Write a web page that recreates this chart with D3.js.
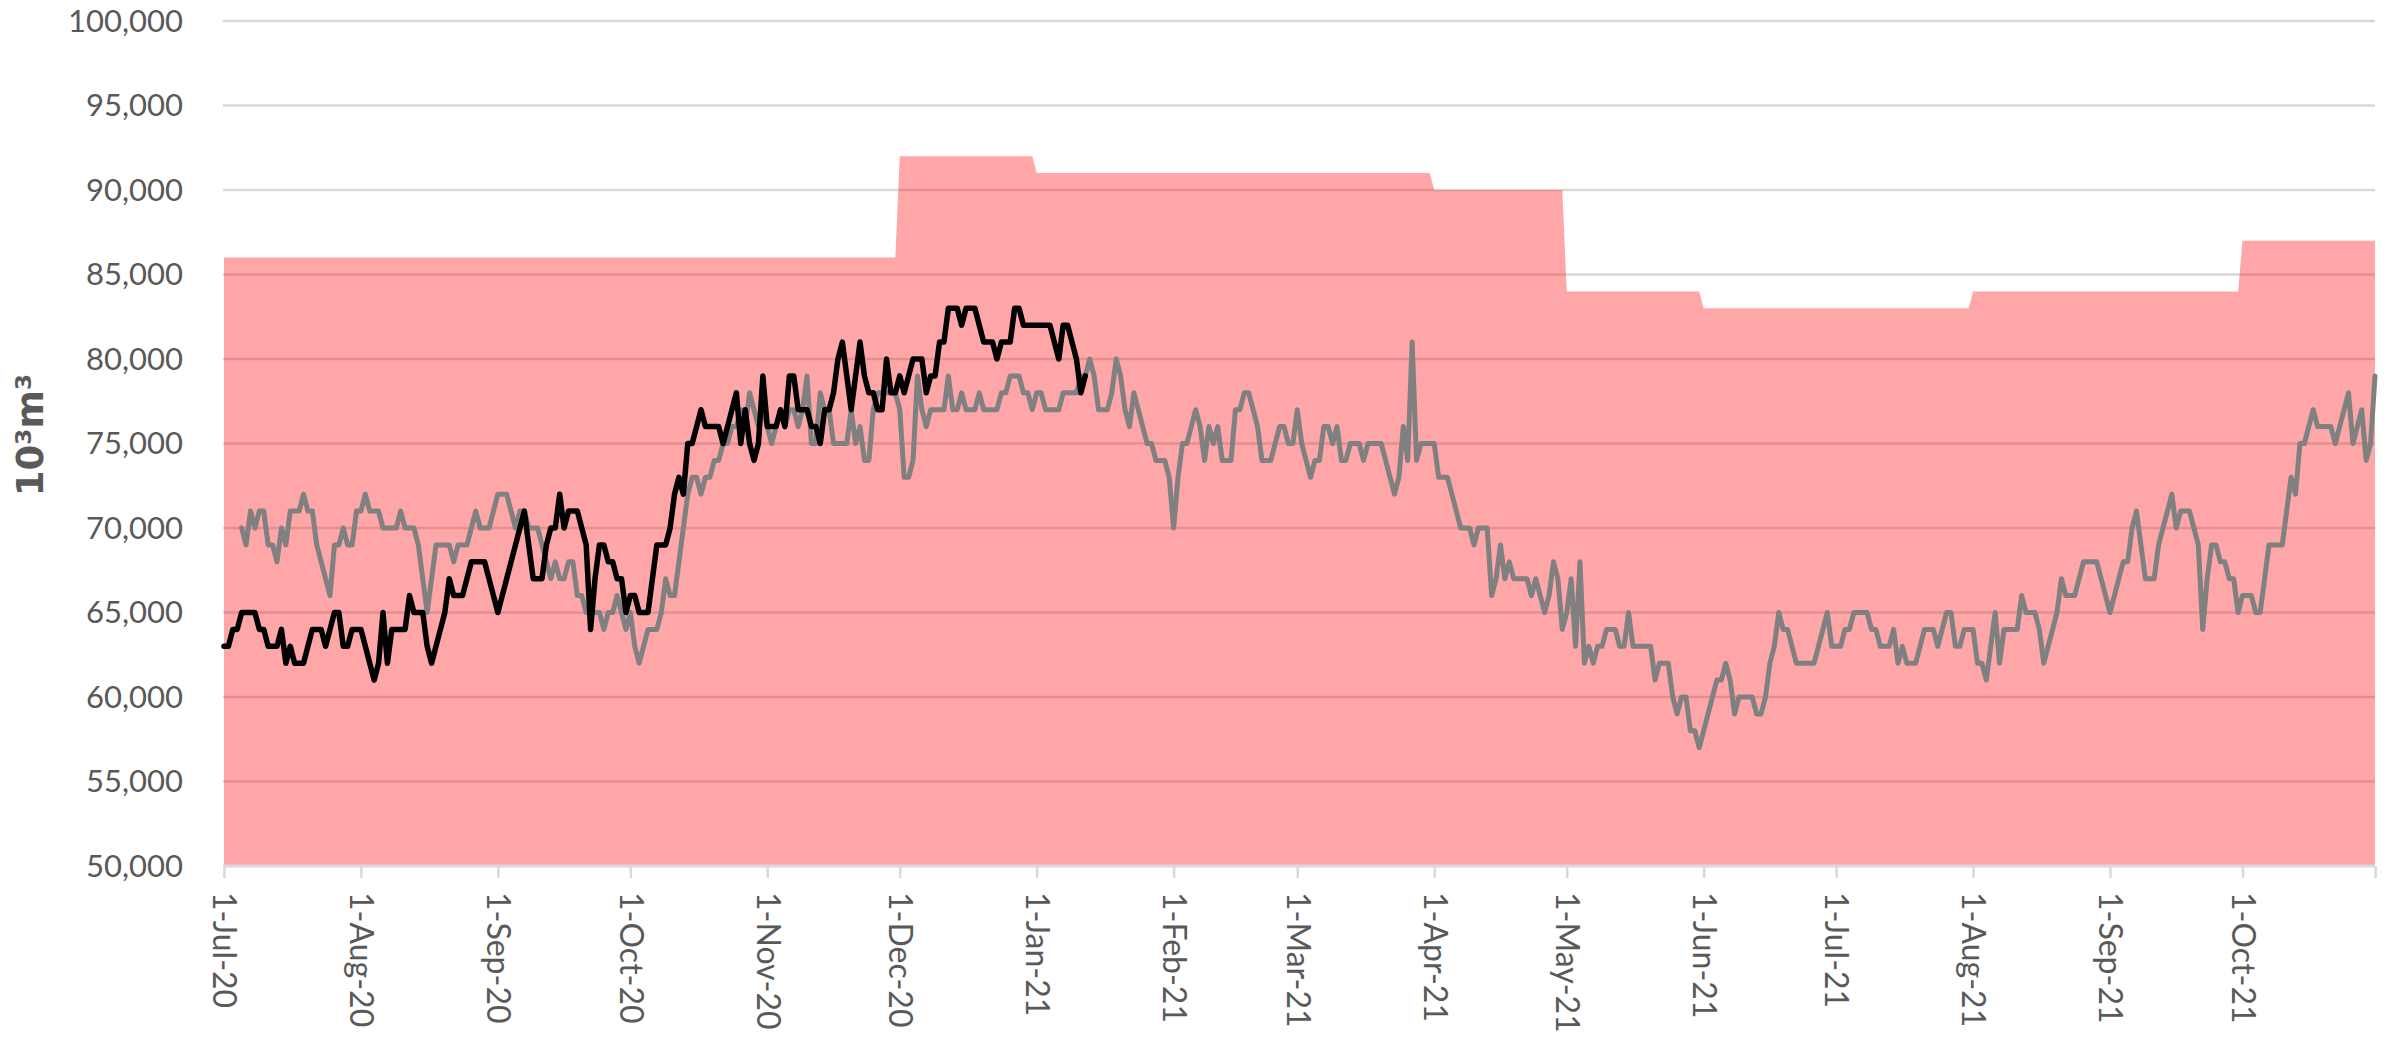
<!DOCTYPE html>
<html>
  <head>
    <meta charset="utf-8">
    <script type="text/javascript" src="https://d3js.org/d3.v7.min.js"></script>
    <style>
        body { margin:0; background:#ffffff; }
        svg { display:block; }
        text { font-family: Lato, "Open Sans", sans-serif; fill:#595959; }
    </style>
  </head>
  <body>
    <script type="text/javascript">
      var width = 2392,
          height = 1054;

      // capacity (pink area): value changes on these dates
      var capDates  = ["2020-07-01", "2020-12-01", "2021-01-01", "2021-04-01", "2021-05-01", "2021-06-01", "2021-08-01", "2021-10-01"];
      var capValues = [86000, 92000, 91000, 90000, 84000, 83000, 84000, 87000];
      var lastDay = "2021-10-31";

      // grey series, one value per day from 5 Jul 2020
      var greyStart = "2020-07-05";
      var greyValues = [
        70000,69000,71000,70000,71000,71000,69000,69000,68000,70000,69000,71000,71000,71000,72000,71000,71000,69000,68000,67000,66000,69000,69000,70000,69000,69000,71000,
        71000,72000,71000,71000,71000,70000,70000,70000,70000,71000,70000,70000,70000,69000,67000,65000,67000,69000,69000,69000,69000,68000,69000,69000,69000,70000,71000,70000,70000,70000,71000,
        72000,72000,72000,71000,70000,71000,71000,70000,70000,70000,69000,68000,67000,68000,67000,67000,68000,68000,66000,66000,65000,65000,65000,65000,64000,65000,65000,66000,65000,64000,
        65000,63000,62000,63000,64000,64000,64000,65000,67000,66000,66000,68000,70000,72000,73000,73000,72000,73000,73000,74000,74000,75000,75000,76000,76000,77000,76000,78000,77000,76000,77000,
        76000,75000,76000,77000,76000,77000,77000,76000,77000,79000,75000,75000,78000,77000,77000,75000,75000,75000,75000,77000,75000,76000,74000,74000,77000,78000,78000,78000,78000,78000,
        77000,73000,73000,74000,79000,77000,76000,77000,77000,77000,77000,79000,77000,77000,78000,77000,77000,77000,78000,77000,77000,77000,77000,78000,78000,79000,79000,79000,78000,78000,77000,
        78000,78000,77000,77000,77000,77000,78000,78000,78000,78000,79000,79000,80000,79000,77000,77000,77000,78000,80000,79000,77000,76000,78000,77000,76000,75000,75000,74000,74000,74000,73000,
        70000,73000,75000,75000,76000,77000,76000,74000,76000,75000,76000,74000,74000,74000,77000,77000,78000,78000,77000,76000,74000,74000,74000,75000,76000,76000,75000,75000,
        77000,75000,74000,73000,74000,74000,76000,76000,75000,76000,74000,74000,75000,75000,75000,74000,75000,75000,75000,75000,74000,73000,72000,73000,76000,74000,81000,74000,75000,75000,75000,
        75000,73000,73000,73000,72000,71000,70000,70000,70000,69000,70000,70000,70000,66000,67000,69000,67000,68000,67000,67000,67000,67000,66000,67000,66000,65000,66000,68000,67000,64000,
        65000,67000,63000,68000,62000,63000,62000,63000,63000,64000,64000,64000,63000,63000,65000,63000,63000,63000,63000,63000,61000,62000,62000,62000,60000,59000,60000,60000,58000,58000,57000,
        58000,59000,60000,61000,61000,62000,61000,59000,60000,60000,60000,60000,59000,59000,60000,62000,63000,65000,64000,64000,63000,62000,62000,62000,62000,62000,63000,64000,65000,63000,
        63000,63000,64000,64000,65000,65000,65000,65000,64000,64000,63000,63000,63000,64000,62000,63000,62000,62000,62000,63000,64000,64000,64000,63000,64000,65000,65000,63000,63000,64000,64000,
        64000,62000,62000,61000,63000,65000,62000,64000,64000,64000,64000,66000,65000,65000,65000,64000,62000,63000,64000,65000,67000,66000,66000,66000,67000,68000,68000,68000,68000,67000,66000,
        65000,66000,67000,68000,68000,70000,71000,69000,67000,67000,67000,69000,70000,71000,72000,70000,71000,71000,71000,70000,69000,64000,67000,69000,69000,68000,68000,67000,67000,65000,
        66000,66000,66000,65000,65000,67000,69000,69000,69000,69000,71000,73000,72000,75000,75000,76000,77000,76000,76000,76000,76000,75000,76000,77000,78000,75000,76000,77000,74000,75000,79000
      ];

      // black series, one value per day from 1 Jul 2020
      var blackStart = "2020-07-01";
      var blackValues = [
        63000,63000,64000,64000,65000,65000,65000,65000,64000,64000,63000,63000,63000,64000,62000,63000,62000,62000,62000,63000,64000,64000,64000,63000,64000,65000,65000,63000,63000,64000,64000,
        64000,63000,62000,61000,62000,65000,62000,64000,64000,64000,64000,66000,65000,65000,65000,63000,62000,63000,64000,65000,67000,66000,66000,66000,67000,68000,68000,68000,68000,67000,66000,
        65000,66000,67000,68000,69000,70000,71000,69000,67000,67000,67000,69000,70000,70000,72000,70000,71000,71000,71000,70000,69000,64000,67000,69000,69000,68000,68000,67000,67000,65000,
        66000,66000,65000,65000,65000,67000,69000,69000,69000,70000,72000,73000,72000,75000,75000,76000,77000,76000,76000,76000,76000,75000,76000,77000,78000,75000,77000,75000,74000,75000,79000,
        76000,76000,76000,77000,76000,79000,79000,77000,77000,77000,76000,76000,75000,77000,77000,78000,80000,81000,79000,77000,79000,81000,79000,78000,78000,77000,77000,80000,78000,78000,
        79000,78000,79000,80000,80000,80000,78000,79000,79000,81000,81000,83000,83000,83000,82000,83000,83000,83000,82000,81000,81000,81000,80000,81000,81000,81000,83000,83000,82000,82000,82000,
        82000,82000,82000,82000,81000,80000,82000,82000,81000,80000,78000,79000
      ];

      var tickDates = ["2020-07-01", "2020-08-01", "2020-09-01", "2020-10-01", "2020-11-01", "2020-12-01",
                       "2021-01-01", "2021-02-01", "2021-03-01", "2021-04-01", "2021-05-01", "2021-06-01",
                       "2021-07-01", "2021-08-01", "2021-09-01", "2021-10-01"];
      var yTicks = [50000, 55000, 60000, 65000, 70000, 75000, 80000, 85000, 90000, 95000, 100000];
      var yTitle = "10³m³";

      var parseDate = d3.timeParse("%Y-%m-%d");
      var fmtDate = d3.timeFormat("%-d-%b-%y");
      var fmtNum = d3.format(",");

      var svg = d3.select("body").append("svg")
          .attr("width", width)
          .attr("height", height);

      var x = d3.scaleTime()
          .domain([parseDate(tickDates[0]), parseDate(lastDay)])
          .range([224, 2375]);

      var y = d3.scaleLinear()
          .domain([50000, 100000])
          .range([866, 21]);

      // gridlines
      svg.append("g")
        .selectAll("line")
        .data(yTicks.slice(1))
        .enter().append("line")
          .attr("x1", 223)
          .attr("x2", 2375)
          .attr("y1", function(d) { return y(d); })
          .attr("y2", function(d) { return y(d); })
          .attr("stroke", "#d9d9d9")
          .attr("stroke-width", 2.5);

      // y labels
      svg.append("g")
        .selectAll("text")
        .data(yTicks)
        .enter().append("text")
          .attr("x", 183)
          .attr("y", function(d) { return y(d); })
          .attr("dy", "0.35em")
          .attr("text-anchor", "end")
          .attr("font-size", 31)
          .text(function(d) { return fmtNum(d); });

      svg.append("text")
          .attr("transform", "translate(30," + y(75500) + ") rotate(-90)")
          .attr("text-anchor", "middle")
          .attr("dy", "0.35em")
          .attr("font-size", 37)
          .attr("font-weight", "bold")
          .style("font-family", "'DejaVu Sans', sans-serif")
          .text(yTitle);

      // capacity steps -> points on first and last day of each step
      var capPoints = [];
      capDates.forEach(function(d, i) {
          var start = parseDate(d);
          var end = (i < capDates.length - 1) ? d3.timeDay.offset(parseDate(capDates[i + 1]), -1) : parseDate(lastDay);
          capPoints.push({date: start, value: capValues[i]});
          capPoints.push({date: end, value: capValues[i]});
      });

      var area = d3.area()
          .x(function(d) { return x(d.date); })
          .y0(y(50000))
          .y1(function(d) { return y(d.value); });

      svg.append("path")
          .datum(capPoints)
          .attr("d", area)
          .attr("fill", "rgb(255,0,10)")
          .attr("fill-opacity", 0.35);

      function toPoints(start, values) {
          var s = parseDate(start);
          return values.map(function(v, i) { return {date: d3.timeDay.offset(s, i), value: v}; });
      }

      var line = d3.line()
          .x(function(d) { return x(d.date); })
          .y(function(d) { return y(d.value); });

      svg.append("path")
          .datum(toPoints(greyStart, greyValues))
          .attr("d", line)
          .attr("fill", "none")
          .attr("stroke", "#808080")
          .attr("stroke-width", 5)
          .attr("stroke-linejoin", "round")
          .attr("stroke-linecap", "round");

      svg.append("path")
          .datum(toPoints(blackStart, blackValues))
          .attr("d", line)
          .attr("fill", "none")
          .attr("stroke", "#000000")
          .attr("stroke-width", 5.5)
          .attr("stroke-linejoin", "round")
          .attr("stroke-linecap", "round");

      // x axis
      var xTickVals = tickDates.map(parseDate).concat([parseDate(lastDay)]);
      var gx = svg.append("g")
          .attr("transform", "translate(0," + y(50000) + ")")
          .call(d3.axisBottom(x)
              .tickValues(xTickVals)
              .tickSize(12)
              .tickFormat(function(d, i) { return i < tickDates.length ? fmtDate(d) : ""; }));

      gx.select(".domain")
          .attr("stroke", "#d9d9d9")
          .attr("stroke-width", 3)
          .attr("d", "M223,0H2375");
      gx.selectAll(".tick line")
          .attr("stroke", "#d9d9d9")
          .attr("stroke-width", 2.5);
      gx.selectAll(".tick text")
          .attr("transform", "rotate(90)")
          .attr("text-anchor", "start")
          .attr("x", 26)
          .attr("y", 0)
          .attr("dy", "0.35em")
          .attr("font-size", 32)
          .style("font-family", "Lato, sans-serif")
          .attr("fill", "#595959");
    </script>
  </body>
</html>
